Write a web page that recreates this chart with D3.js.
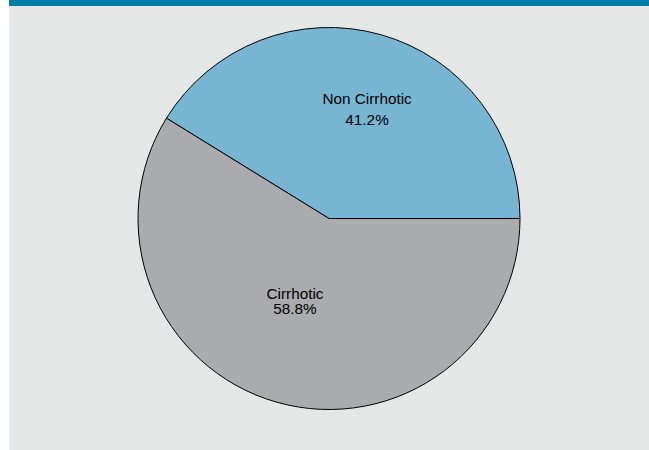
<!doctype html><html><head><style>
body { margin: 0; background: #fff; }
svg text { font: 15.3px "Liberation Sans", Arial, sans-serif; fill: #000; text-anchor: middle; }
</style></head><body><script src='https://d3js.org/d3.v7.min.js'></script>
<script>
var categories = ["Non Cirrhotic", "Cirrhotic"];
var values = [41.2, 58.8];
var colors = ["#78b5d2", "#aaabae"];

var width = 649, height = 450;
var cx = 329, cy = 218.5, radius = 191;

var svg = d3.select("body").append("svg")
  .attr("width", width).attr("height", height);

svg.append("rect").attr("x", 9).attr("y", 0).attr("width", width - 9).attr("height", height).attr("fill", "#e5e6e6");
svg.append("rect").attr("x", 9).attr("y", 0).attr("width", width - 9).attr("height", 6).attr("fill", "#0080a6");

var data = categories.map(function(c, i) { return { name: c, value: values[i] }; });

// first slice starts at 3 o'clock, counter-clockwise
var pie = d3.pie().value(function(d) { return d.value; }).sort(null)
  .startAngle(Math.PI / 2).endAngle(Math.PI / 2 - 2 * Math.PI);

var arc = d3.arc().innerRadius(0).outerRadius(radius);
var labelRadius = [0.73, 0.652];

var g = svg.append("g").attr("transform", "translate(" + cx + "," + cy + ")");
var arcs = pie(data);

g.selectAll("path").data(arcs).enter().append("path")
  .attr("d", arc)
  .attr("fill", function(d, i) { return colors[i]; })
  .attr("stroke", "#000").attr("stroke-width", 1);

var lines = [[19.8, 20.7], [-39.6, 15]];
arcs.forEach(function(d, i) {
  var r = radius * labelRadius[i];
  var c = d3.arc().innerRadius(r).outerRadius(r).centroid(d);
  var t = g.append("text").attr("x", c[0]).attr("y", c[1]);
  t.append("tspan").attr("x", c[0]).attr("dy", lines[i][0]).text(d.data.name);
  t.append("tspan").attr("x", c[0]).attr("dy", lines[i][1]).text(d.data.value.toFixed(1) + "%");
});
</script></body></html>
